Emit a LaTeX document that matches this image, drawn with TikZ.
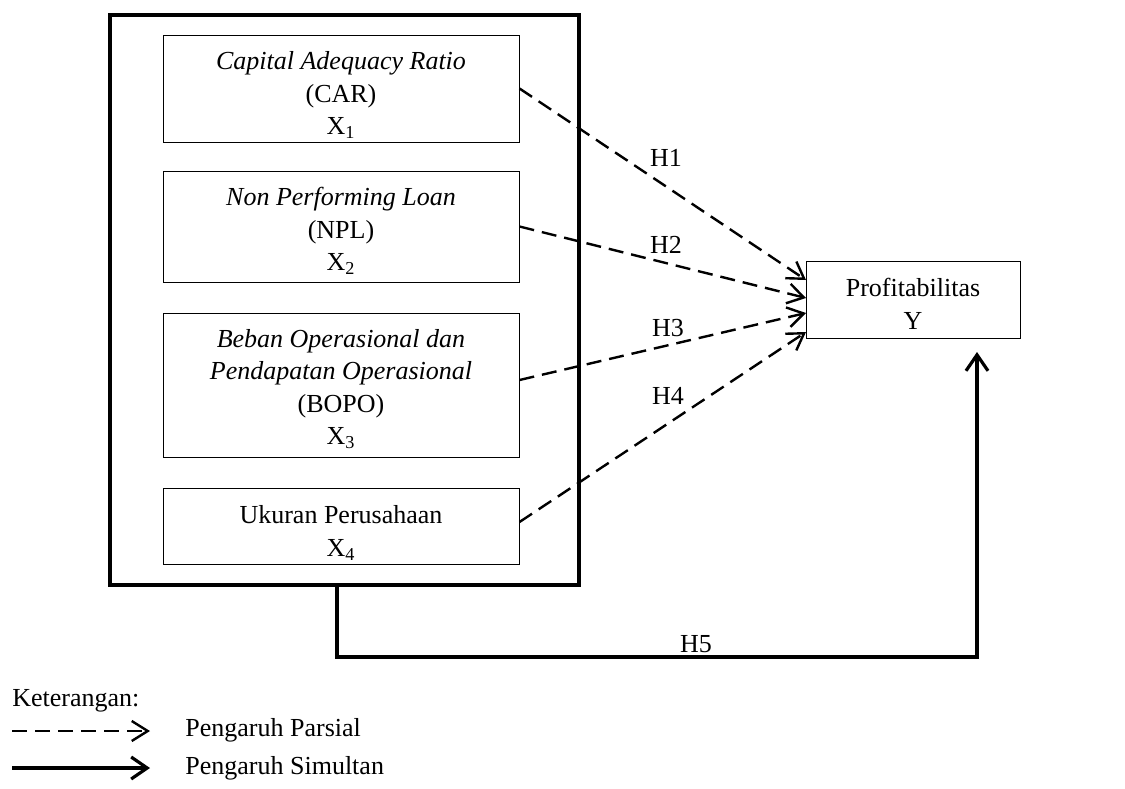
\documentclass[tikz,border=0pt]{standalone}
\usepackage{fontspec}
\setmainfont{Liberation Serif}
\usetikzlibrary{arrows.meta}
\begin{document}
\begin{tikzpicture}[x=0.5pt,y=-0.5pt,
  every node/.style={font=\fontsize{13}{16.3}\selectfont},
  varbox/.style={draw,line width=0.5pt,rectangle,inner sep=0pt,minimum width=178pt},
  vtext/.style={align=center,inner sep=0pt},
  partial/.style={line width=1.2pt,dash pattern=on 7.5pt off 4pt,-{Straight Barb[length=8pt,width=10pt,line width=1.2pt]}},
  simul/.style={line width=1.6pt,-{Straight Barb[length=8pt,width=11pt,line width=1.6pt]}},
  lbl/.style={inner sep=0pt}]
\useasboundingbox (0,0) rectangle (1125,788);
% outer box
\node[draw,line width=1.6pt,minimum width=234.5pt,minimum height=285pt,inner sep=0pt] (outer) at (344.5,300) {};
% variable boxes
\node[varbox,minimum height=53.5pt] (car) at (341,88.5) {};
\node[vtext] (cart) at (341,95) {\textit{Capital Adequacy Ratio}\\(CAR)\\X\textsubscript{1}};
\node[varbox,minimum height=55.5pt] (npl) at (341,226.5) {};
\node[vtext] (nplt) at (341,231) {\textit{Non Performing Loan}\\(NPL)\\X\textsubscript{2}};
\node[varbox,minimum height=72pt] (bopo) at (341,385) {};
\node[vtext] (bopot) at (341,389) {\textit{Beban Operasional dan}\\\textit{Pendapatan Operasional}\\(BOPO)\\X\textsubscript{3}};
\node[varbox,minimum height=38pt] (uk) at (341,526) {};
\node[vtext] (ukt) at (341,533) {Ukuran Perusahaan\\X\textsubscript{4}};
\node[draw,line width=0.5pt,inner sep=0pt,minimum width=107pt,minimum height=38.5pt] (y) at (913,299.5) {};
\node[vtext] (yt) at (913,304) {Profitabilitas\\Y};
% arrow targets
\coordinate (t1) at (806,280);
\coordinate (t2) at (806,298);
\coordinate (t3) at (806,313);
\coordinate (t4) at (806,332);
\draw[partial] (car.east) -- (t1);
\draw[partial] (npl.east) -- (t2);
\draw[partial] (bopo.east) ++(0,-5) coordinate (s3) (s3) -- (t3);
\draw[partial] (uk.east) ++(0,-4) coordinate (s4) (s4) -- (t4);
\node[lbl] (h1) at (666,158) {H1};
\node[lbl] (h2) at (666,245) {H2};
\node[lbl] (h3) at (668,328) {H3};
\node[lbl] (h4) at (668,396) {H4};
% H5
\coordinate (h5s) at (337,585);
\coordinate (h5c) at (337,657);
\coordinate (h5t) at (977,352);
\draw[simul,line join=miter] (h5s) -- (h5c) -| (h5t);
\node[lbl] (h5) at (696,644) {H5};
% legend
\node[lbl,anchor=west] (ket) at (12,701) {Keterangan:};
\coordinate (l1a) at (12,731);
\coordinate (l1b) at (150,731);
\coordinate (l2a) at (12,768);
\coordinate (l2b) at (150,768);
\draw[partial] (l1a) -- (l1b);
\draw[simul] (l2a) -- (l2b);
\node[lbl,anchor=west] (pp) at (185,730) {Pengaruh Parsial};
\node[lbl,anchor=west] (ps) at (185,768) {Pengaruh Simultan};
\end{tikzpicture}
\end{document}
